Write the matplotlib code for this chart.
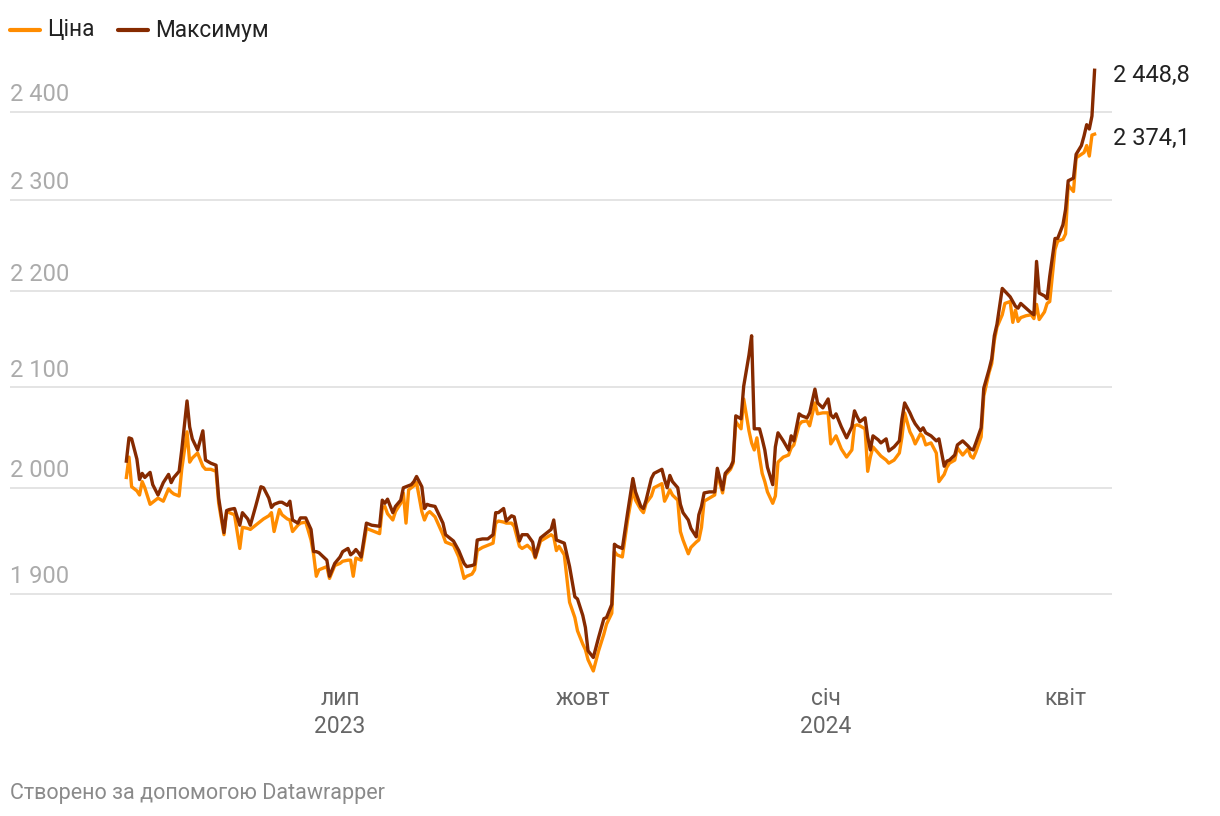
import pandas as pd
import matplotlib
matplotlib.use("Agg")
import matplotlib.pyplot as plt
from matplotlib.lines import Line2D
from matplotlib.ticker import NullFormatter, FixedLocator

plt.rcParams["font.family"] = ["Roboto", "DejaVu Sans"]

# Daily gold data (close and high)
dates = [
    "2023-04-11", "2023-04-12", "2023-04-13", "2023-04-15", "2023-04-16", "2023-04-17", "2023-04-18",
    "2023-04-20", "2023-04-21", "2023-04-23", "2023-04-25", "2023-04-27", "2023-04-28", "2023-04-29",
    "2023-05-01", "2023-05-02", "2023-05-04", "2023-05-05", "2023-05-06", "2023-05-08", "2023-05-10",
    "2023-05-11", "2023-05-13", "2023-05-15", "2023-05-16", "2023-05-18", "2023-05-19", "2023-05-20",
    "2023-05-22", "2023-05-24", "2023-05-25", "2023-05-27", "2023-05-28", "2023-05-30", "2023-06-01",
    "2023-06-02", "2023-06-04", "2023-06-05", "2023-06-06", "2023-06-08", "2023-06-09", "2023-06-11",
    "2023-06-12", "2023-06-13", "2023-06-15", "2023-06-16", "2023-06-18", "2023-06-20", "2023-06-21",
    "2023-06-22", "2023-06-23", "2023-06-26", "2023-06-27", "2023-06-29", "2023-07-01", "2023-07-02",
    "2023-07-04", "2023-07-05", "2023-07-06", "2023-07-07", "2023-07-08", "2023-07-09", "2023-07-11",
    "2023-07-13", "2023-07-16", "2023-07-17", "2023-07-18", "2023-07-19", "2023-07-21", "2023-07-22",
    "2023-07-24", "2023-07-25", "2023-07-26", "2023-07-27", "2023-07-28", "2023-07-29", "2023-07-30",
    "2023-08-01", "2023-08-02", "2023-08-03", "2023-08-04", "2023-08-06", "2023-08-09", "2023-08-10",
    "2023-08-13", "2023-08-15", "2023-08-17", "2023-08-18", "2023-08-20", "2023-08-21", "2023-08-22",
    "2023-08-24", "2023-08-26", "2023-08-28", "2023-08-29", "2023-08-30", "2023-09-01", "2023-09-02",
    "2023-09-04", "2023-09-05", "2023-09-07", "2023-09-08", "2023-09-10", "2023-09-12", "2023-09-13",
    "2023-09-15", "2023-09-17", "2023-09-19", "2023-09-20", "2023-09-21", "2023-09-22", "2023-09-24",
    "2023-09-26", "2023-09-28", "2023-09-29", "2023-10-01", "2023-10-02", "2023-10-03", "2023-10-05",
    "2023-10-07", "2023-10-09", "2023-10-10", "2023-10-12", "2023-10-13", "2023-10-14", "2023-10-16",
    "2023-10-18", "2023-10-20", "2023-10-21", "2023-10-23", "2023-10-24", "2023-10-25", "2023-10-27",
    "2023-10-28", "2023-10-31", "2023-11-01", "2023-11-02", "2023-11-03", "2023-11-04", "2023-11-06",
    "2023-11-07", "2023-11-08", "2023-11-10", "2023-11-11", "2023-11-13", "2023-11-14", "2023-11-15",
    "2023-11-16", "2023-11-18", "2023-11-20", "2023-11-21", "2023-11-23", "2023-11-24", "2023-11-26",
    "2023-11-27", "2023-11-28", "2023-11-30", "2023-12-01", "2023-12-03", "2023-12-04", "2023-12-05",
    "2023-12-06", "2023-12-07", "2023-12-08", "2023-12-09", "2023-12-10", "2023-12-12", "2023-12-13",
    "2023-12-14", "2023-12-16", "2023-12-18", "2023-12-19", "2023-12-20", "2023-12-22", "2023-12-23",
    "2023-12-25", "2023-12-26", "2023-12-28", "2023-12-29", "2023-12-31", "2024-01-02", "2024-01-03",
    "2024-01-04", "2024-01-05", "2024-01-07", "2024-01-09", "2024-01-11", "2024-01-12", "2024-01-13",
    "2024-01-14", "2024-01-16", "2024-01-17", "2024-01-18", "2024-01-19", "2024-01-21", "2024-01-22",
    "2024-01-24", "2024-01-25", "2024-01-27", "2024-01-29", "2024-01-30", "2024-01-31", "2024-02-02",
    "2024-02-03", "2024-02-04", "2024-02-06", "2024-02-07", "2024-02-08", "2024-02-10", "2024-02-12",
    "2024-02-13", "2024-02-15", "2024-02-16", "2024-02-17", "2024-02-19", "2024-02-20", "2024-02-22",
    "2024-02-24", "2024-02-25", "2024-02-26", "2024-02-27", "2024-02-29", "2024-03-01", "2024-03-03",
    "2024-03-04", "2024-03-05", "2024-03-06", "2024-03-08", "2024-03-09", "2024-03-11", "2024-03-12",
    "2024-03-13", "2024-03-14", "2024-03-15", "2024-03-17", "2024-03-19", "2024-03-20", "2024-03-21",
    "2024-03-22", "2024-03-24", "2024-03-25", "2024-03-26", "2024-03-28", "2024-03-29", "2024-03-31",
    "2024-04-01", "2024-04-02", "2024-04-04", "2024-04-05", "2024-04-07", "2024-04-08", "2024-04-09",
    "2024-04-10", "2024-04-11", "2024-04-12",
]

price = [
    2010, 2030, 2001, 1997, 1993, 2006, 2000, 1984, 1986, 1990, 1987, 1999, 1996, 1994,
    1992, 2018, 2055, 2025, 2029, 2034, 2021, 2018, 2018, 2016, 1985, 1955, 1977, 1976,
    1974, 1942, 1962, 1961, 1960, 1964, 1968, 1970, 1973, 1976, 1958, 1979, 1974, 1970,
    1969, 1958, 1964, 1966, 1967, 1950, 1936, 1916, 1922, 1925, 1914, 1926, 1928, 1930,
    1931, 1931, 1916, 1933, 1932, 1931, 1961, 1959, 1956, 1980, 1982, 1975, 1969, 1977,
    1985, 1995, 1966, 1998, 2000, 2002, 2005, 1977, 1969, 1975, 1977, 1972, 1955, 1948,
    1945, 1934, 1914, 1916, 1918, 1922, 1940, 1943, 1945, 1947, 1966, 1968, 1967, 1966,
    1966, 1963, 1944, 1942, 1945, 1940, 1933, 1949, 1952, 1955, 1953, 1940, 1944, 1936,
    1892, 1878, 1866, 1854, 1849, 1840, 1830, 1848, 1863, 1872, 1882, 1939, 1936, 1934,
    1969, 1998, 1988, 1979, 1976, 1985, 1992, 2000, 2004, 1987, 1992, 1998, 1993, 1988,
    1958, 1950, 1937, 1943, 1948, 1950, 1962, 1987, 1990, 1993, 2014, 1995, 2012, 2018,
    2024, 2065, 2058, 2088, 2056, 2044, 2037, 2049, 2030, 2014, 2006, 1996, 1985, 1992,
    2025, 2030, 2032, 2039, 2042, 2062, 2065, 2066, 2061, 2084, 2073, 2074, 2074, 2043,
    2047, 2051, 2038, 2030, 2037, 2061, 2062, 2061, 2058, 2016, 2030, 2040, 2034, 2031,
    2027, 2024, 2027, 2034, 2050, 2074, 2055, 2050, 2043, 2053, 2050, 2042, 2044, 2034,
    2006, 2013, 2020, 2024, 2027, 2039, 2032, 2038, 2031, 2029, 2035, 2050, 2091, 2115,
    2124, 2148, 2162, 2175, 2187, 2189, 2167, 2180, 2168, 2172, 2174, 2175, 2171, 2186,
    2170, 2178, 2187, 2189, 2245, 2254, 2256, 2262, 2316, 2309, 2347, 2351, 2353, 2361,
    2349, 2373, 2374.1,
]

high = [
    2026, 2049, 2048, 2028, 2008, 2014, 2010, 2015, 2003, 1993, 2005, 2013, 2005, 2010,
    2016, 2037, 2086, 2060, 2048, 2037, 2056, 2027, 2024, 2022, 1990, 1957, 1978, 1979,
    1980, 1964, 1976, 1970, 1964, 1982, 2001, 2000, 1990, 1981, 1984, 1986, 1986, 1983,
    1987, 1969, 1966, 1971, 1971, 1960, 1939, 1939, 1938, 1931, 1916, 1928, 1934, 1939,
    1942, 1936, 1938, 1941, 1938, 1934, 1966, 1964, 1963, 1988, 1985, 1989, 1976, 1982,
    1988, 2000, 2001, 2002, 2003, 2006, 2011, 2001, 1980, 1984, 1983, 1982, 1966, 1955,
    1949, 1940, 1928, 1925, 1926, 1927, 1950, 1951, 1951, 1955, 1976, 1976, 1980, 1968,
    1973, 1972, 1949, 1955, 1955, 1948, 1934, 1952, 1956, 1960, 1969, 1950, 1949, 1947,
    1925, 1897, 1895, 1880, 1869, 1848, 1842, 1860, 1877, 1878, 1890, 1946, 1944, 1942,
    1976, 2009, 1996, 1982, 1980, 1988, 2009, 2014, 2018, 2008, 2000, 2012, 2006, 2000,
    1984, 1976, 1969, 1961, 1953, 1974, 1982, 1995, 1996, 1996, 2019, 1998, 2014, 2020,
    2026, 2071, 2068, 2101, 2133, 2153, 2058, 2058, 2058, 2048, 2037, 2020, 2003, 2040,
    2054, 2046, 2037, 2051, 2046, 2073, 2071, 2069, 2074, 2098, 2084, 2079, 2088, 2072,
    2069, 2073, 2060, 2049, 2060, 2076, 2070, 2065, 2069, 2050, 2037, 2051, 2047, 2044,
    2048, 2036, 2040, 2046, 2068, 2084, 2074, 2068, 2063, 2056, 2059, 2054, 2051, 2046,
    2048, 2021, 2026, 2027, 2032, 2042, 2046, 2041, 2038, 2037, 2044, 2059, 2099, 2118,
    2129, 2153, 2165, 2203, 2200, 2194, 2189, 2184, 2182, 2187, 2182, 2177, 2175, 2232,
    2198, 2195, 2192, 2216, 2257, 2257, 2272, 2289, 2321, 2324, 2351, 2361, 2372, 2385,
    2380, 2395, 2448.8,
]

y_ticks = [1900, 2000, 2100, 2200, 2300, 2400]
y_tick_labels = ["1 900", "2 000", "2 100", "2 200", "2 300", "2 400"]
x_ticks = ["2023-07-01", "2023-10-01", "2024-01-01", "2024-04-01"]
x_tick_labels = ["лип\n2023", "жовт", "січ\n2024", "квіт"]
series_names = ["Ціна", "Максимум"]
end_labels = ["2 374,1", "2 448,8"]

orange = "#ff8c00"
brown = "#862a00"

d = pd.to_datetime(dates)

fig = plt.figure(figsize=(12.2, 8.16), dpi=100)
ax = fig.add_axes([10 / 1220, 1 - 680 / 816, 1102 / 1220, 620 / 816])

ax.plot(d, price, color=orange, lw=2.4, solid_joinstyle="round", zorder=3)
ax.plot(d, high, color=brown, lw=2.4, solid_joinstyle="round", zorder=4)

ax.set_yscale("log")
ax.set_ylim(1822, 2461)
ref = pd.Timestamp("2023-07-01")
ax.set_xlim(ref + pd.Timedelta(days=-125.1), ref + pd.Timedelta(days=292.6))

ax.yaxis.set_major_locator(FixedLocator(y_ticks))
ax.yaxis.set_minor_locator(FixedLocator([]))
ax.yaxis.set_major_formatter(NullFormatter())
ax.yaxis.set_minor_formatter(NullFormatter())
ax.tick_params(axis="y", length=0)
ax.grid(axis="y", color="#e2e2e2", lw=1.3, zorder=0)

for v, lab in zip(y_ticks, y_tick_labels):
    ax.annotate(lab, xy=(0, v), xycoords=("axes fraction", "data"),
                xytext=(0, 7.5), textcoords="offset points",
                ha="left", va="baseline", fontsize=17, color="#ababab")

ax.set_xticks(pd.to_datetime(x_ticks))
ax.set_xticklabels(x_tick_labels, fontsize=16.5, color="#666666", linespacing=1.3)
ax.tick_params(axis="x", length=0, pad=5)

for s in ax.spines.values():
    s.set_visible(False)

# value labels at the end of the lines
ax.annotate(end_labels[1], xy=(d[-1], high[-1]), xytext=(13, -4), textcoords="offset points",
            ha="left", va="center", fontsize=17, color="#222222")
ax.annotate(end_labels[0], xy=(d[-1], price[-1]), xytext=(13, -3), textcoords="offset points",
            ha="left", va="center", fontsize=17, color="#222222")

# legend
for x0, col, name in [(10, orange, series_names[0]), (118, brown, series_names[1])]:
    fig.add_artist(Line2D([x0 / 1220, (x0 + 30) / 1220], [1 - 30 / 816] * 2,
                          color=col, lw=3, solid_capstyle="round"))
    fig.text((x0 + 37) / 1220, 1 - 30 / 816, name, ha="left", va="center",
             fontsize=16.3, color="#222222")

fig.text(10 / 1220, 1 - 793 / 816, "Створено за допомогою Datawrapper",
         ha="left", va="center", fontsize=15.5, color="#8a8a8a")

fig.savefig("out.png", dpi=100, facecolor="white")
